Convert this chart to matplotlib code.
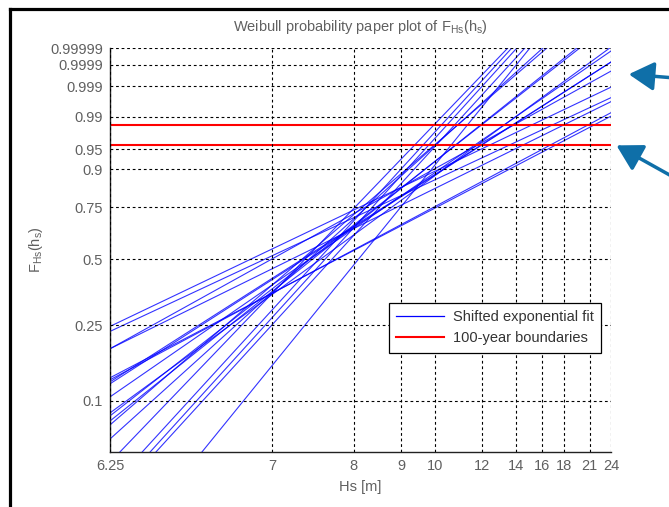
import numpy as np
import matplotlib
matplotlib.use("Agg")
import matplotlib.pyplot as plt
from matplotlib.lines import Line2D
from matplotlib.patches import FancyArrowPatch

plt.rcParams['font.family'] = ['Liberation Sans', 'DejaVu Sans']
plt.rcParams['mathtext.fontset'] = 'custom'
plt.rcParams['mathtext.rm'] = 'Liberation Sans'

# ---- data ----
# each fitted line: start point (hs, F) and end point (hs, F)
line_h0 = [6.25, 6.25, 6.25, 6.25, 6.25, 6.25, 6.25, 6.25, 6.25, 6.25,
           6.25, 6.25, 6.25, 6.25, 6.272, 6.329, 6.352, 6.370, 6.548]
line_F0 = [0.2471, 0.2332, 0.1901, 0.1901, 0.1335, 0.1302, 0.1269, 0.1239,
           0.1052, 0.0859, 0.0827, 0.0775, 0.0737, 0.0615,
           0.052, 0.052, 0.052, 0.052, 0.052]
line_h1 = [24, 24, 24, 24, 24, 24, 24, 24, 24, 23.81,
           19.79, 19.45, 16.41, 16.06, 13.46, 13.72, 14.06, 14.63, 15.01]
line_F1 = [0.99893, 0.99739, 0.99979, 0.99645, 0.99044, 0.99233, 0.999929,
           0.999929, 0.9999843, 0.99999, 0.99999, 0.99999, 0.99999, 0.99999,
           0.99999, 0.99999, 0.99999, 0.99999, 0.99999]
boundaries_F = [0.9844, 0.9587]

x_ticks = [6.25, 7, 8, 9, 10, 12, 14, 16, 18, 21, 24]
x_ticklabels = ['6.25', '7', '8', '9', '10', '12', '14', '16', '18', '21', '24']
y_ticks = [0.1, 0.25, 0.5, 0.75, 0.9, 0.95, 0.99, 0.999, 0.9999, 0.99999]
y_ticklabels = ['0.1', '0.25', '0.5', '0.75', '0.9', '0.95', '0.99', '0.999',
                '0.9999', '0.99999']
shift = 6.0


def fx(h):
    h = np.asarray(h, dtype=float)
    with np.errstate(all='ignore'):
        return np.log(np.clip(h - shift, 1e-12, None))


def ifx(x):
    return np.exp(np.asarray(x, dtype=float)) + shift


def fy(F):
    F = np.asarray(F, dtype=float)
    with np.errstate(all='ignore'):
        return np.log(-np.log(np.clip(1 - F, 1e-15, 1 - 1e-15)))


def ify(y):
    return 1 - np.exp(-np.exp(np.asarray(y, dtype=float)))


W, H = 669, 507
fig = plt.figure(figsize=(W / 100, H / 100), dpi=100)
ax = fig.add_axes([110 / W, 1 - 452 / H, 501 / W, 404 / H])
ax.set_xscale('function', functions=(fx, ifx))
ax.set_yscale('function', functions=(fy, ify))

for h0, F0, h1, F1 in zip(line_h0, line_F0, line_h1, line_F1):
    ax.plot([h0, h1], [F0, F1], color='#0000ff', lw=0.8, alpha=0.8)
for Fb in boundaries_F:
    ax.plot([x_ticks[0], x_ticks[-1]], [Fb, Fb], color='#ff0000', lw=1.5)

ax.set_xlim(6.25, 24)
ax.set_ylim(0.052, 0.99999)
ax.set_xticks(x_ticks)
ax.set_xticklabels(x_ticklabels)
ax.set_yticks(y_ticks)
ax.set_yticklabels(y_ticklabels)
ax.xaxis.set_minor_locator(matplotlib.ticker.NullLocator())
ax.yaxis.set_minor_locator(matplotlib.ticker.NullLocator())
ax.tick_params(length=0, labelsize=10.5, labelcolor='#606060', pad=5)
ax.grid(True, color='black', linestyle=(0, (2.5, 2.5)), lw=0.8)
ax.set_axisbelow(False)
for s in ['top', 'right']:
    ax.spines[s].set_visible(False)
for s in ['left', 'bottom']:
    ax.spines[s].set_color('#222222')
    ax.spines[s].set_linewidth(1.0)

ax.set_title(r'Weibull probability paper plot of F$_{\mathrm{Hs}}$(h$_{\mathrm{s}}$)',
             fontsize=10.5, color='#606060', pad=12)
ax.set_xlabel('Hs [m]', fontsize=10.5, color='#606060', labelpad=5)
ax.set_ylabel(r'F$_{\mathrm{Hs}}$(h$_{\mathrm{s}}$)', fontsize=10.5,
              color='#606060', labelpad=4)

handles = [Line2D([], [], color='#0000ff', lw=0.9),
           Line2D([], [], color='#ff0000', lw=1.5)]
leg = ax.legend(handles, ['Shifted exponential fit', '100-year boundaries'],
                loc='upper right', bbox_to_anchor=(0.98, 0.3696),
                borderaxespad=0.0,
                fancybox=False, framealpha=1, edgecolor='black',
                fontsize=10.5, handlelength=3.3, borderpad=0.5,
                labelspacing=0.5, handletextpad=0.6)
leg.get_frame().set_linewidth(0.9)
for t in leg.get_texts():
    t.set_color('#333333')

# slide frame (left and top edges)
fig.add_artist(Line2D([10 / W, 10 / W], [0, 1 - 8.5 / H], color='black',
                      lw=2.3, transform=fig.transFigure))
fig.add_artist(Line2D([10 / W, 1.0], [1 - 8.5 / H, 1 - 8.5 / H], color='black',
                      lw=2.3, transform=fig.transFigure))

# pointer arrows
arrow_color = '#0f6fa8'
for (tx, ty), (hx, hy) in [((675, 78), (626, 74)), ((675, 178), (614, 144))]:
    fig.add_artist(FancyArrowPatch((tx / W, 1 - ty / H), (hx / W, 1 - hy / H),
                                   transform=fig.transFigure,
                                   arrowstyle='-|>,head_length=7,head_width=4',
                                   color=arrow_color, lw=2.5,
                                   mutation_scale=2.2))

fig.savefig('out.png', dpi=100)
